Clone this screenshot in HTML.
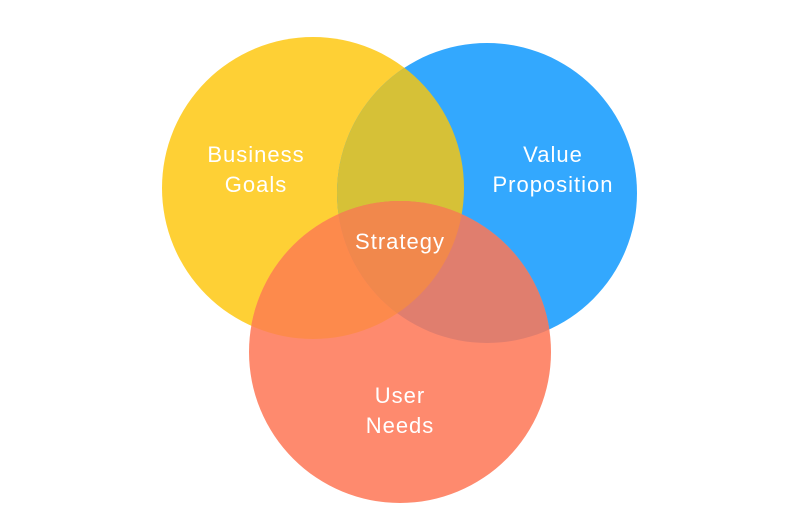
<!DOCTYPE html>
<html><head><style>
html,body{margin:0;padding:0;background:#fff;}
svg{display:block}
text{font-family:"Liberation Sans",sans-serif;font-size:22px;letter-spacing:1px;fill:#fff;text-anchor:middle}
</style></head><body>
<svg width="800" height="526" viewBox="0 0 800 526">
<defs>
<clipPath id="y"><circle cx="313" cy="188" r="151"/></clipPath>
<clipPath id="b"><circle cx="487" cy="193" r="150"/></clipPath>
<clipPath id="r"><circle cx="400" cy="352" r="151"/></clipPath>
</defs>
<circle cx="313" cy="188" r="151" fill="#FED035"/>
<circle cx="487" cy="193" r="150" fill="#33A8FE"/>
<circle cx="400" cy="352" r="151" fill="#FE8A6E"/>
<g clip-path="url(#y)"><circle cx="487" cy="193" r="150" fill="#D6C137"/></g>
<g clip-path="url(#y)"><circle cx="400" cy="352" r="151" fill="#FD8A4C"/></g>
<g clip-path="url(#b)"><circle cx="400" cy="352" r="151" fill="#E07E6E"/></g>
<g clip-path="url(#y)"><g clip-path="url(#b)"><circle cx="400" cy="352" r="151" fill="#F1884C"/></g></g>
<text x="256" y="162">Business</text>
<text x="256" y="192">Goals</text>
<text x="553" y="162">Value</text>
<text x="553" y="192">Proposition</text>
<text x="400" y="249">Strategy</text>
<text x="400" y="403">User</text>
<text x="400" y="433">Needs</text>
</svg>
</body></html>
